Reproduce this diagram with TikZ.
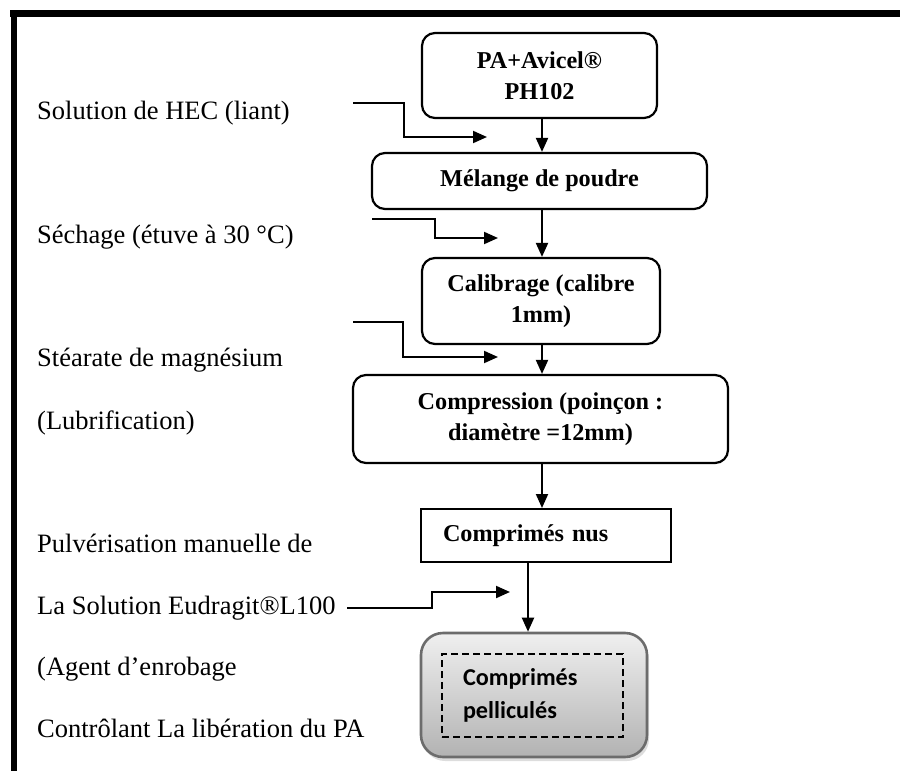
\documentclass[tikz,border=0pt]{standalone}
\usepackage{fontspec}
\setmainfont{Liberation Serif}
\newfontfamily\calib{Carlito}
\usetikzlibrary{arrows.meta,shadows}
\begin{document}
\begin{tikzpicture}[x=1pt,y=-1pt,
  box/.style={draw, line width=2.2pt, rounded corners=13pt, inner sep=0pt, align=center,
              font=\fontsize{24.2}{31}\selectfont\bfseries},
  lbl/.style={anchor=base west, inner sep=0pt, font=\fontsize{26.5}{30}\selectfont},
  arr/.style={line width=2pt, -{Triangle[length=14pt,width=12pt]}},
]
\useasboundingbox (0,0) rectangle (900,771);
% frame
\fill[black] (10,10) rectangle (900,16.5);
\fill[black] (10.5,10) rectangle (17,771);

% left labels
\node[lbl] (t1) at (37,119) {Solution de HEC (liant)};
\node[lbl] (t2) at (37,243) {Séchage (étuve à 30 °C)};
\node[lbl] (t3) at (37,366) {Stéarate de magnésium};
\node[lbl] (t4) at (37,429) {(Lubrification)};
\node[lbl] (t5) at (37,552) {Pulvérisation manuelle de};
\node[lbl] (t6) at (37,614) {La Solution Eudragit®L100};
\node[lbl] (t7) at (37,675) {(Agent d’enrobage};
\node[lbl] (t8) at (37,737) {Contrôlant La libération du PA};

% main boxes
\node[box, minimum width=235pt, minimum height=85pt] (b1) at (539.5,75.5) {PA+Avicel®\\PH102};
\node[box, minimum width=335pt, minimum height=56pt] (b2) at (539.5,181) {Mélange de poudre};
\node[box, minimum width=238pt, minimum height=86pt] (b3) at (541,301) {Calibrage (calibre\\1mm)};
\node[box, minimum width=375pt, minimum height=88pt] (b4) at (540.5,419) {Compression (poinçon :\\diamètre =12mm)};
\node[draw, line width=2pt, inner ysep=0pt, inner xsep=22pt, text width=206pt, minimum height=53pt, align=left,
      font=\fontsize{24.2}{31}\selectfont\bfseries] (b5) at (546,535.5) {Comprimés nus};
\node[draw=gray!85!black, line width=2.6pt, rounded corners=22pt, minimum width=226pt, minimum height=124pt,
      top color=gray!12, middle color=white, bottom color=gray!60,
      drop shadow={shadow xshift=2pt, shadow yshift=-4pt, fill=gray!45, opacity=0.6}] (b6) at (534,695) {};
\node[draw, line width=2pt, dash pattern=on 7pt off 4pt, minimum width=181pt, minimum height=83pt,
      text width=139pt, inner xsep=21pt, inner ysep=0pt, align=left,
      font=\calib\bfseries\fontsize{24.2}{33}\selectfont] (b6in) at (532.5,695.5) {Comprimés\\pelliculés};

% vertical flow arrows
\coordinate (ax) at (542,0);
\coordinate (ax2) at (528,0);
\draw[arr] (b1.south -| ax) -- (b2.north -| ax);
\draw[arr] (b2.south -| ax) -- (b3.north -| ax);
\draw[arr] (b3.south -| ax) -- (b4.north -| ax);
\draw[arr] (b4.south -| ax) -- (b5.north -| ax);
\draw[arr] (b5.south -| ax2) -- (b6.north -| ax2);

% side inputs
\coordinate (s1) at (353,103); \coordinate (e1) at (487,137);
\draw[arr] (s1) -- (404,103) |- (e1);
\coordinate (s2) at (372,219); \coordinate (e2) at (498,238);
\draw[arr] (s2) -- (435,219) |- (e2);
\coordinate (s3) at (353,322); \coordinate (e3) at (498,357);
\draw[arr] (s3) -- (403,322) |- (e3);
\coordinate (s4) at (347,608); \coordinate (e4) at (510,592);
\draw[arr] (s4) -- (432,608) |- (e4);
\end{tikzpicture}
\end{document}
